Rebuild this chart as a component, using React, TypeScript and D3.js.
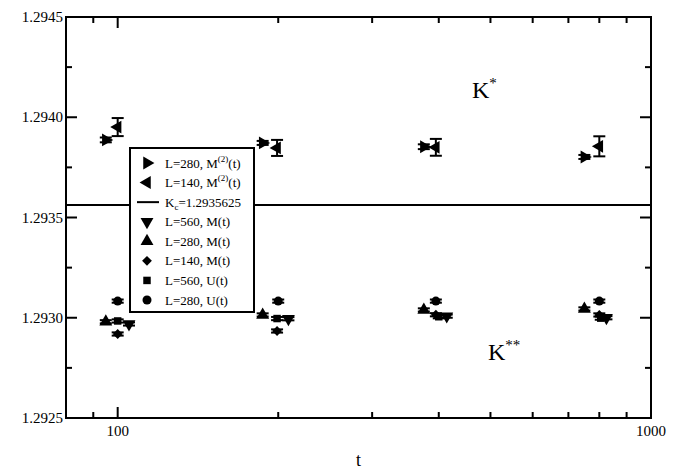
import React, { useRef, useEffect } from 'react';
import * as d3 from 'd3';

// t positions (slightly shifted per series in the original plot) and values
const tA = [95, 187, 375, 750];
const m2L280 = [1.293887, 1.293872, 1.293853, 1.293802];
const m2L280Err = [0.000012, 0.000010, 0.000012, 0.000010];

const tB = [100, 199, 395, 800];
const m2L140 = [1.293951, 1.293847, 1.29385, 1.293855];
const m2L140Err = [0.000045, 0.00004, 0.000042, 0.00005];

const tDown = [105, 209, 414, 825];
const mL560 = [1.292969, 1.292995, 1.293008, 1.293000];
const tUp = [95, 187, 375, 750];
const mL280 = [1.29298, 1.293014, 1.293039, 1.293044];
const tDiam = [100, 199, 395, 800];
const mL140 = [1.292919, 1.292934, 1.293015, 1.293014];
const tSq = [100, 199, 400, 805];
const uL560 = [1.292984, 1.292996, 1.293005, 1.292998];
const tCirc = [100, 200, 395, 800];
const uL280 = [1.293083, 1.293083, 1.293083, 1.293083];
const smallErr = 0.000008;

const kc = 1.2935625;
const yTicks = [1.2925, 1.293, 1.2935, 1.294, 1.2945];
const yMinor = [1.29275, 1.29325, 1.29375, 1.29425];
const xLabels = [100, 1000];
const xMinor = [90, 200, 300, 400, 500, 600, 700, 800, 900];

const legendItems = [
  { kind: 'right', label: 'L=280, M', sup: '(2)', tail: '(t)' },
  { kind: 'left', label: 'L=140, M', sup: '(2)', tail: '(t)' },
  { kind: 'line', label: 'K', sub: 'c', tail: '=1.2935625' },
  { kind: 'down', label: 'L=560, M(t)' },
  { kind: 'up', label: 'L=280, M(t)' },
  { kind: 'diamond', label: 'L=140, M(t)' },
  { kind: 'square', label: 'L=560, U(t)' },
  { kind: 'circle', label: 'L=280, U(t)' },
];

const FONT = '"Liberation Serif", "DejaVu Serif", serif';

function symbolPath(kind: string) {
  if (kind === 'circle') return { d: d3.symbol(d3.symbolCircle, 64)(), rot: 0 };
  if (kind === 'square') return { d: d3.symbol(d3.symbolSquare, 56)(), rot: 0 };
  if (kind === 'diamond') return { d: d3.symbol(d3.symbolSquare, 48)(), rot: 45 };
  const d = d3.symbol(d3.symbolTriangle, 72)();
  const rot = kind === 'up' ? 0 : kind === 'down' ? 180 : kind === 'right' ? 90 : -90;
  return { d, rot };
}

export default function App() {
  const svgRef = useRef<SVGSVGElement>(null);

  useEffect(() => {
    if (!svgRef.current) return;
    const svg = d3.select(svgRef.current);
    svg.selectAll('*').remove();

    const width = 679;
    const height = 473;
    const margin = { top: 17, right: 28, bottom: 55, left: 66 };

    const x = d3.scaleLog().domain([80, 1000]).range([margin.left, width - margin.right]);
    const y = d3.scaleLinear().domain([1.2925, 1.2945]).range([height - margin.bottom, margin.top]);

    const x0 = margin.left, x1 = width - margin.right;
    const y0 = height - margin.bottom, y1 = margin.top;

    // Kc line (legend box covers the middle of it)
    svg.append('line')
      .attr('x1', x0).attr('x2', x1)
      .attr('y1', y(kc)).attr('y2', y(kc))
      .attr('stroke', '#000').attr('stroke-width', 2);

    const drawSeries = (ts: number[], vals: number[], errs: number[] | null, kind: string) => {
      const g = svg.append('g');
      ts.forEach((t, i) => {
        const cx = x(t), cy = y(vals[i]);
        if (errs) {
          const e = errs[i];
          g.append('line').attr('x1', cx).attr('x2', cx)
            .attr('y1', y(vals[i] + e)).attr('y2', y(vals[i] - e))
            .attr('stroke', '#000').attr('stroke-width', 2);
          [vals[i] + e, vals[i] - e].forEach(v => {
            g.append('line').attr('x1', cx - 6).attr('x2', cx + 6)
              .attr('y1', y(v)).attr('y2', y(v))
              .attr('stroke', '#000').attr('stroke-width', 2);
          });
        }
        const s = symbolPath(kind);
        g.append('path').attr('d', s.d)
          .attr('transform', `translate(${cx},${cy}) rotate(${s.rot})`)
          .attr('fill', '#000');
      });
    };

    const small = [smallErr, smallErr, smallErr, smallErr];
    drawSeries(tA, m2L280, m2L280Err, 'right');
    drawSeries(tB, m2L140, m2L140Err, 'left');
    drawSeries(tCirc, uL280, small, 'circle');
    drawSeries(tUp, mL280, small, 'up');
    drawSeries(tSq, uL560, small, 'square');
    drawSeries(tDown, mL560, small, 'down');
    drawSeries(tDiam, mL140, small, 'diamond');

    // Frame
    svg.append('rect')
      .attr('x', x0).attr('y', y1)
      .attr('width', x1 - x0).attr('height', y0 - y1)
      .attr('fill', 'none').attr('stroke', '#000').attr('stroke-width', 2);

    // Y ticks (inward, both sides)
    yTicks.forEach(v => {
      svg.append('line').attr('x1', x0).attr('x2', x0 + 11).attr('y1', y(v)).attr('y2', y(v)).attr('stroke', '#000').attr('stroke-width', 2);
      svg.append('line').attr('x1', x1).attr('x2', x1 - 11).attr('y1', y(v)).attr('y2', y(v)).attr('stroke', '#000').attr('stroke-width', 2);
      svg.append('text').attr('x', x0 - 3).attr('y', y(v) + 5)
        .attr('text-anchor', 'end').attr('font-family', FONT).attr('font-size', 15)
        .text(d3.format('.4f')(v));
    });
    yMinor.forEach(v => {
      svg.append('line').attr('x1', x0).attr('x2', x0 + 6).attr('y1', y(v)).attr('y2', y(v)).attr('stroke', '#000').attr('stroke-width', 2);
      svg.append('line').attr('x1', x1).attr('x2', x1 - 6).attr('y1', y(v)).attr('y2', y(v)).attr('stroke', '#000').attr('stroke-width', 2);
    });

    // X ticks
    xLabels.forEach(v => {
      svg.append('line').attr('x1', x(v)).attr('x2', x(v)).attr('y1', y0).attr('y2', y0 - 11).attr('stroke', '#000').attr('stroke-width', 2);
      svg.append('line').attr('x1', x(v)).attr('x2', x(v)).attr('y1', y1).attr('y2', y1 + 11).attr('stroke', '#000').attr('stroke-width', 2);
      svg.append('text').attr('x', x(v)).attr('y', y0 + 18)
        .attr('text-anchor', 'middle').attr('font-family', FONT).attr('font-size', 15)
        .text(String(v));
    });
    xMinor.forEach(v => {
      svg.append('line').attr('x1', x(v)).attr('x2', x(v)).attr('y1', y0).attr('y2', y0 - 6).attr('stroke', '#000').attr('stroke-width', 2);
      svg.append('line').attr('x1', x(v)).attr('x2', x(v)).attr('y1', y1).attr('y2', y1 + 6).attr('stroke', '#000').attr('stroke-width', 2);
    });

    svg.append('text').attr('x', (x0 + x1) / 2).attr('y', 466)
      .attr('text-anchor', 'middle').attr('font-family', FONT).attr('font-size', 18)
      .text('t');

    // K labels
    const k1 = svg.append('text').attr('x', 472).attr('y', 98).attr('font-family', FONT).attr('font-size', 24);
    k1.append('tspan').text('K');
    k1.append('tspan').attr('dy', -10).attr('font-size', 15).text('*');
    const k2 = svg.append('text').attr('x', 488).attr('y', 360).attr('font-family', FONT).attr('font-size', 24);
    k2.append('tspan').text('K');
    k2.append('tspan').attr('dy', -10).attr('font-size', 15).text('**');

    // Legend
    const lg = svg.append('g');
    const lx = 130, ly = 148, lw = 124, lh = 164;
    lg.append('rect').attr('x', lx).attr('y', ly).attr('width', lw).attr('height', lh)
      .attr('fill', '#fff').attr('stroke', '#000').attr('stroke-width', 2);
    const rowY = d3.scaleLinear().domain([0, legendItems.length - 1]).range([ly + 15, ly + 152]);
    legendItems.forEach((it, i) => {
      const ry = rowY(i);
      if (it.kind === 'line') {
        lg.append('line').attr('x1', lx + 7).attr('x2', lx + 29).attr('y1', ry).attr('y2', ry)
          .attr('stroke', '#000').attr('stroke-width', 2);
      } else {
        const s = symbolPath(it.kind);
        lg.append('path').attr('d', s.d)
          .attr('transform', `translate(${lx + 17},${ry}) rotate(${s.rot})`)
          .attr('fill', '#000');
      }
      const t = lg.append('text').attr('x', lx + 35).attr('y', ry + 4.5)
        .attr('font-family', FONT).attr('font-size', 13);
      t.append('tspan').text(it.label);
      if (it.sup) {
        t.append('tspan').attr('dy', -6).attr('font-size', 9).text(it.sup);
        t.append('tspan').attr('dy', 6).text(it.tail);
      } else if (it.sub) {
        t.append('tspan').attr('dy', 3).attr('font-size', 9).text(it.sub);
        t.append('tspan').attr('dy', -3).text(it.tail);
      }
    });
  }, []);

  return (
    <svg
      ref={svgRef}
      width={679}
      height={473}
      style={{ position: 'absolute', left: 0, top: 0, background: '#fff' }}
      viewBox="0 0 679 473"
    />
  );
}
